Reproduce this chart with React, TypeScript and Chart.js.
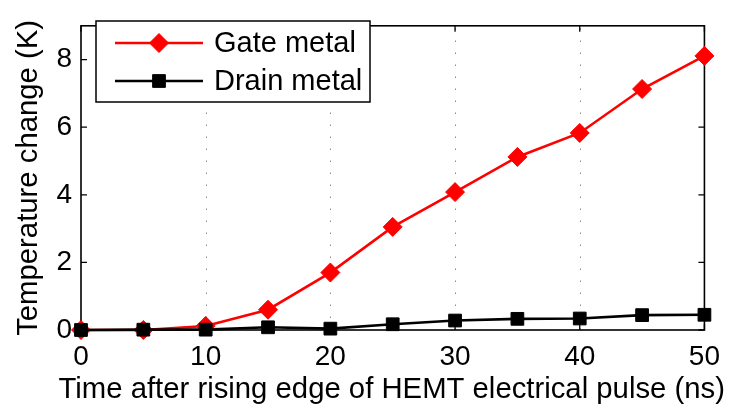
import React, { useEffect, useRef } from "react";
import { Chart, registerables } from "chart.js";

Chart.register(...registerables);

const timeNs = [0, 5, 10, 15, 20, 25, 30, 35, 40, 45, 50];
const gateMetal = [0, 0, 0.12, 0.6, 1.7, 3.05, 4.08, 5.12, 5.83, 7.13, 8.11];
const drainMetal = [0, 0.01, 0.01, 0.08, 0.04, 0.17, 0.28, 0.33, 0.34, 0.44, 0.45];
const xTicks = [0, 10, 20, 30, 40, 50];
const yTicks = [0, 2, 4, 6, 8];
const seriesLabels = ["Gate metal", "Drain metal"];
const seriesColors = ["#ff0000", "#000000"];
const xTitle = "Time after rising edge of HEMT electrical pulse (ns)";
const yTitle = "Temperature change (K)";

const FONT = "'Liberation Sans', Arial, Helvetica, sans-serif";

function drawMarker(ctx: CanvasRenderingContext2D, style: string, x: number, y: number, r: number, color: string) {
  ctx.save();
  ctx.fillStyle = color;
  ctx.strokeStyle = color;
  ctx.lineWidth = 1;
  ctx.beginPath();
  if (style === "rectRot") {
    ctx.moveTo(x, y - r);
    ctx.lineTo(x + r, y);
    ctx.lineTo(x, y + r);
    ctx.lineTo(x - r, y);
    ctx.closePath();
  } else {
    const s = Math.SQRT1_2 * r;
    ctx.rect(x - s, y - s, 2 * s, 2 * s);
  }
  ctx.fill();
  ctx.stroke();
  ctx.restore();
}

const framePlugin = {
  id: "frame",
  beforeDatasetsDraw(chart: any) {
    const { ctx, chartArea: a, scales } = chart;
    const x = scales.x;
    const y = scales.y;
    ctx.save();
    ctx.strokeStyle = "#8a8a8a";
    ctx.lineWidth = 1;
    ctx.setLineDash([1.5, 10.5]);
    for (const v of xTicks) {
      if (v === x.min || v === x.max) continue;
      const px = Math.round(x.getPixelForValue(v)) + 0.5;
      ctx.beginPath();
      ctx.moveTo(px, a.bottom);
      ctx.lineTo(px, a.top);
      ctx.stroke();
    }
    ctx.setLineDash([]);
    ctx.strokeStyle = "#000";
    ctx.lineWidth = 1.6;
    ctx.strokeRect(a.left, a.top, a.right - a.left, a.bottom - a.top);
    const tl = 6;
    ctx.lineWidth = 1.3;
    for (const v of xTicks) {
      const px = x.getPixelForValue(v);
      ctx.beginPath();
      ctx.moveTo(px, a.bottom);
      ctx.lineTo(px, a.bottom - tl);
      ctx.moveTo(px, a.top);
      ctx.lineTo(px, a.top + tl);
      ctx.stroke();
    }
    for (const v of yTicks) {
      const py = y.getPixelForValue(v);
      ctx.beginPath();
      ctx.moveTo(a.left, py);
      ctx.lineTo(a.left + tl, py);
      ctx.moveTo(a.right, py);
      ctx.lineTo(a.right - tl, py);
      ctx.stroke();
    }
    // axis titles
    ctx.fillStyle = "#000";
    ctx.font = `29.3px ${FONT}`;
    ctx.textAlign = "center";
    ctx.textBaseline = "middle";
    ctx.fillText(xTitle, (a.left + a.right) / 2 - 1, 390);
    ctx.save();
    ctx.translate(29, (a.top + a.bottom) / 2);
    ctx.rotate(-Math.PI / 2);
    ctx.fillText(yTitle, 0, 0);
    ctx.restore();
    ctx.restore();
  },
  afterDatasetsDraw(chart: any) {
    const { ctx } = chart;
    const bx = 96, by = 21, bw = 274, bh = 81;
    ctx.save();
    ctx.fillStyle = "#fff";
    ctx.fillRect(bx, by, bw, bh);
    ctx.strokeStyle = "#000";
    ctx.lineWidth = 1.5;
    ctx.strokeRect(bx, by, bw, bh);
    const rows = [43, 81];
    chart.data.datasets.forEach((ds: any, i: number) => {
      const cy = rows[i];
      ctx.strokeStyle = ds.borderColor;
      ctx.lineWidth = ds.borderWidth;
      ctx.beginPath();
      ctx.moveTo(115, cy);
      ctx.lineTo(203, cy);
      ctx.stroke();
      drawMarker(ctx, ds.pointStyle, 159, cy, ds.pointRadius, ds.borderColor);
      ctx.fillStyle = "#000";
      ctx.font = `29px ${FONT}`;
      ctx.textBaseline = "middle";
      ctx.textAlign = "left";
      ctx.fillText(ds.label, 214, cy + 1);
    });
    ctx.restore();
  },
};

export default function App() {
  const canvasRef = useRef<HTMLCanvasElement | null>(null);

  useEffect(() => {
    document.body.style.margin = "0";
    const canvas = canvasRef.current;
    if (!canvas) return;
    const tickFont = { family: FONT, size: 28 };
    const chart = new Chart(canvas, {
      type: "line",
      data: {
        datasets: [
          {
            label: seriesLabels[0],
            data: timeNs.map((t, i) => ({ x: t, y: gateMetal[i] })),
            borderColor: seriesColors[0],
            backgroundColor: seriesColors[0],
            pointBackgroundColor: seriesColors[0],
            pointBorderColor: seriesColors[0],
            pointStyle: "rectRot",
            pointRadius: 9.5,
            pointBorderWidth: 1,
            borderWidth: 2.6,
            tension: 0,
            clip: false,
            order: 1,
          },
          {
            label: seriesLabels[1],
            data: timeNs.map((t, i) => ({ x: t, y: drainMetal[i] })),
            borderColor: seriesColors[1],
            backgroundColor: seriesColors[1],
            pointBackgroundColor: seriesColors[1],
            pointBorderColor: seriesColors[1],
            pointStyle: "rect",
            pointRadius: 9,
            pointBorderWidth: 1,
            borderWidth: 2.6,
            tension: 0,
            clip: false,
            order: 0,
          },
        ],
      } as any,
      options: {
        animation: false,
        responsive: false,
        devicePixelRatio: 1,
        layout: { padding: { left: 0, right: 20, top: 6, bottom: 0 }, autoPadding: false } as any,
        plugins: { legend: { display: false }, tooltip: { enabled: false } },
        scales: {
          x: {
            type: "linear",
            min: 0,
            max: 50,
            afterBuildTicks: (s: any) => {
              s.ticks = xTicks.map((v) => ({ value: v }));
            },
            grid: { display: false, drawTicks: false },
            border: { display: false },
            ticks: { font: tickFont, color: "#000", padding: 10, maxRotation: 0, autoSkip: false },
            title: { display: false },
            afterFit: (s: any) => {
              s.height = 83;
            },
          },
          y: {
            type: "linear",
            min: 0,
            max: 9,
            afterBuildTicks: (s: any) => {
              s.ticks = yTicks.map((v) => ({ value: v }));
            },
            grid: { display: false, drawTicks: false },
            border: { display: false },
            ticks: { font: tickFont, color: "#000", padding: 9, autoSkip: false },
            title: { display: false },
            afterFit: (s: any) => {
              s.width = 81;
            },
          },
        },
      } as any,
      plugins: [framePlugin],
    });
    return () => chart.destroy();
  }, []);

  return (
    <div style={{ width: 730, height: 413, background: "#fff" }}>
      <canvas ref={canvasRef} width={730} height={413} />
    </div>
  );
}
